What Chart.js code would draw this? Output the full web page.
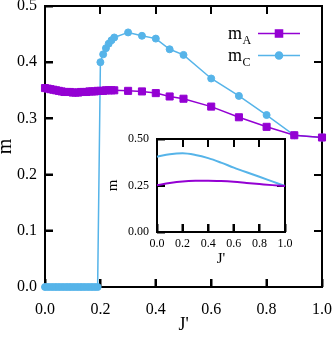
<!DOCTYPE html>
<html>
<head>
<meta charset="utf-8">
<script src="https://cdn.jsdelivr.net/npm/chart.js@4.4.1/dist/chart.umd.min.js"></script>
<style>
  html, body { margin: 0; padding: 0; background: #fff; }
  #wrap { position: relative; width: 332px; height: 341px; }
  #main { position: absolute; left: 0; top: 0; }
  #inset { position: absolute; left: 105px; top: 130px; }
</style>
</head>
<body>
<div id="wrap">
  <canvas id="main" width="332" height="341"></canvas>
  <canvas id="inset" width="190" height="140"></canvas>
</div>
<script>
// main panel: m_A (squares)
const jA = [0.00, 0.01, 0.02, 0.03, 0.04, 0.05, 0.06, 0.07, 0.08, 0.09, 0.10, 0.11, 0.12,
  0.13, 0.14, 0.15, 0.16, 0.17, 0.18, 0.19, 0.20, 0.21, 0.22, 0.23, 0.24, 0.25,
  0.30, 0.35, 0.40, 0.45, 0.50, 0.60, 0.70, 0.80, 0.90, 1.00];
const mA = [0.354, 0.353, 0.352, 0.351, 0.350, 0.349, 0.348, 0.347, 0.347, 0.347, 0.346, 0.346, 0.346,
  0.347, 0.347, 0.347, 0.348, 0.348, 0.348, 0.349, 0.349, 0.349, 0.350, 0.350, 0.350, 0.350,
  0.349, 0.348, 0.345, 0.339, 0.335, 0.321, 0.302, 0.285, 0.270, 0.266];

// main panel: m_C (circles)
const jC = [0.00, 0.01, 0.02, 0.03, 0.04, 0.05, 0.06, 0.07, 0.08, 0.09, 0.10, 0.11, 0.12,
  0.13, 0.14, 0.15, 0.16, 0.17, 0.18, 0.19, 0.20, 0.21, 0.22, 0.23, 0.24, 0.25,
  0.30, 0.35, 0.40, 0.45, 0.50, 0.60, 0.70, 0.80, 0.90, 1.00];
const mC = [0, 0, 0, 0, 0, 0, 0, 0, 0, 0, 0, 0, 0,
  0, 0, 0, 0, 0, 0, 0, 0.400, 0.414, 0.425, 0.433, 0.439, 0.444,
  0.453, 0.447, 0.442, 0.423, 0.413, 0.371, 0.340, 0.306, 0.270, 0.266];

// inset curves
const jIn = [0.0, 0.1, 0.2, 0.3, 0.4, 0.5, 0.6, 0.7, 0.8, 0.9, 1.0];
const mAin = [0.252, 0.263, 0.271, 0.275, 0.276, 0.274, 0.270, 0.264, 0.258, 0.252, 0.247];
const mCin = [0.405, 0.418, 0.423, 0.414, 0.397, 0.373, 0.346, 0.321, 0.297, 0.272, 0.247];

const mainXTicks = [0.0, 0.2, 0.4, 0.6, 0.8, 1.0];
const mainYTicks = [0.0, 0.1, 0.2, 0.3, 0.4, 0.5];
const insetXTicks = [0.0, 0.2, 0.4, 0.6, 0.8, 1.0];
const insetYTicks = [0.00, 0.25, 0.50];

const purple = '#9400d3';
const blue = '#56b4e9';
const serif = "'Liberation Serif', 'DejaVu Serif', serif";

const pts = (xs, ys) => xs.map((x, i) => ({ x, y: ys[i] }));

// frame box + mirrored inward ticks on top/right (gnuplot style)
const makeFrame = (xTicks, yTicks, len) => ({
  id: 'frameTicks',
  beforeDatasetsDraw(chart) {
    const { ctx, chartArea: a } = chart;
    ctx.save();
    ctx.strokeStyle = '#000';
    ctx.lineWidth = 2;
    ctx.strokeRect(a.left, a.top, a.right - a.left, a.bottom - a.top);
    ctx.fillStyle = '#000';
    const xs = chart.scales.x;
    const ys = chart.scales.y;
    xTicks.forEach((v) => {
      let px = xs.getPixelForValue(v);
      if (!isFinite(px)) px = a.left + (v - xs.min) / (xs.max - xs.min) * (a.right - a.left);
      ctx.fillRect(Math.round(px) - 1, a.top, 2, len);
      ctx.fillRect(Math.round(px) - 1, a.bottom - len, 2, len);
    });
    yTicks.forEach((v) => {
      let py = ys.getPixelForValue(v);
      if (!isFinite(py)) py = a.bottom - (v - ys.min) / (ys.max - ys.min) * (a.bottom - a.top);
      ctx.fillRect(a.right - len, Math.round(py) - 1, len, 2);
      ctx.fillRect(a.left, Math.round(py) - 1, len, 2);
    });
    ctx.restore();
  },
});

// legend drawn like gnuplot: label, then line sample with marker
const keyBox = {
  id: 'keyBox',
  afterDraw(chart) {
    const ctx = chart.ctx;
    const subs = ['A', 'C'];
    chart.data.datasets.forEach((ds, i) => {
      const ly = 33.5 + i * 22;
      ctx.save();
      ctx.fillStyle = '#000';
      ctx.textBaseline = 'alphabetic';
      ctx.font = '18px ' + serif;
      ctx.fillText('m', 228, ly + 5);
      ctx.font = '12px ' + serif;
      ctx.fillText(subs[i], 242.5, ly + 10);
      ctx.strokeStyle = ds.borderColor;
      ctx.lineWidth = 1.5;
      ctx.beginPath();
      ctx.moveTo(258, ly); ctx.lineTo(300, ly);
      ctx.stroke();
      ctx.fillStyle = ds.backgroundColor;
      Chart.helpers.drawPoint(ctx, { pointStyle: ds.pointStyle, radius: ds.pointRadius, borderWidth: 1 }, 279, ly);
      ctx.fill();
      ctx.restore();
    });
  },
};

const fixedTicks = (list) => (scale) => {
  scale.ticks = list.map((v) => ({ value: v }));
};

// fixed axis box sizes, no extra room for overhanging end labels
const fitX = (h) => (s) => { s.height = h; s.paddingLeft = 0; s.paddingRight = 0; };
const fitY = (w) => (s) => { s.width = w; s.paddingTop = 0; s.paddingBottom = 0; };

// native ticks pointing into the plot (negative tick length)
const inwardGrid = {
  display: true, drawOnChartArea: false, drawTicks: true,
  tickLength: -8, tickWidth: 2, tickColor: '#000',
};

new Chart(document.getElementById('main'), {
  type: 'line',
  data: {
    datasets: [
      {
        label: 'mA', data: pts(jA, mA),
        borderColor: purple, backgroundColor: purple,
        pointStyle: 'rect', pointRadius: 5, pointBorderWidth: 1,
        borderWidth: 1.5, clip: false,
      },
      {
        label: 'mC', data: pts(jC, mC),
        borderColor: blue, backgroundColor: blue,
        pointStyle: 'circle', pointRadius: 3.5, pointBorderWidth: 1,
        borderWidth: 1.5, clip: false,
      },
    ],
  },
  options: {
    responsive: false,
    animation: false,
    layout: { padding: { top: 5, right: 10, left: 0, bottom: 0 } },
    plugins: {
      legend: { display: false },
      tooltip: { enabled: false },
    },
    scales: {
      x: {
        type: 'linear', min: 0, max: 1,
        afterBuildTicks: fixedTicks(mainXTicks),
        afterFit: fitX(54),
        grid: inwardGrid,
        border: { display: false },
        ticks: { color: '#000', padding: 21, font: { family: serif, size: 16 }, callback: (v) => v.toFixed(1), maxRotation: 0 },
        title: { display: true, text: "J'", color: '#000', font: { family: serif, size: 18 }, padding: { top: 0, bottom: 5 } },
      },
      y: {
        type: 'linear', min: 0, max: 0.5,
        afterBuildTicks: fixedTicks(mainYTicks),
        afterFit: fitY(45),
        grid: inwardGrid,
        border: { display: false },
        ticks: { color: '#000', padding: 16, font: { family: serif, size: 16 }, callback: (v) => v.toFixed(1) },
        title: { display: true, text: 'm', color: '#000', font: { family: serif, size: 20, lineHeight: 0.6 }, padding: { top: 0, bottom: 0 } },
      },
    },
  },
  plugins: [makeFrame(mainXTicks, mainYTicks, 8), keyBox],
});

new Chart(document.getElementById('inset'), {
  type: 'line',
  data: {
    datasets: [
      {
        label: 'mA', data: pts(jIn, mAin),
        borderColor: purple, borderWidth: 2, pointRadius: 0,
        cubicInterpolationMode: 'monotone', clip: false,
      },
      {
        label: 'mC', data: pts(jIn, mCin),
        borderColor: blue, borderWidth: 2, pointRadius: 0,
        cubicInterpolationMode: 'monotone', clip: false,
      },
    ],
  },
  options: {
    responsive: false,
    animation: false,
    layout: { padding: { top: 9, right: 10, left: 0, bottom: 0 } },
    plugins: {
      legend: { display: false },
      tooltip: { enabled: false },
    },
    scales: {
      x: {
        type: 'linear', min: 0, max: 1,
        afterBuildTicks: fixedTicks(insetXTicks),
        afterFit: fitX(38),
        grid: inwardGrid,
        border: { display: false },
        ticks: { color: '#000', padding: 13, font: { family: serif, size: 12 }, callback: (v) => v.toFixed(1), maxRotation: 0, autoSkip: false },
        title: { display: true, text: "J'", color: '#000', font: { family: serif, size: 15 }, padding: { top: 0, bottom: 2 } },
      },
      y: {
        type: 'linear', min: 0, max: 0.5,
        afterBuildTicks: fixedTicks(insetYTicks),
        afterFit: fitY(52),
        grid: inwardGrid,
        border: { display: false },
        ticks: { color: '#000', padding: 16, font: { family: serif, size: 12 }, callback: (v) => v.toFixed(2) },
        title: { display: true, text: 'm', color: '#000', font: { family: serif, size: 15, lineHeight: 1 }, padding: { top: 1, bottom: 0 } },
      },
    },
  },
  plugins: [makeFrame(insetXTicks, insetYTicks, 8)],
});
</script>
</body>
</html>
